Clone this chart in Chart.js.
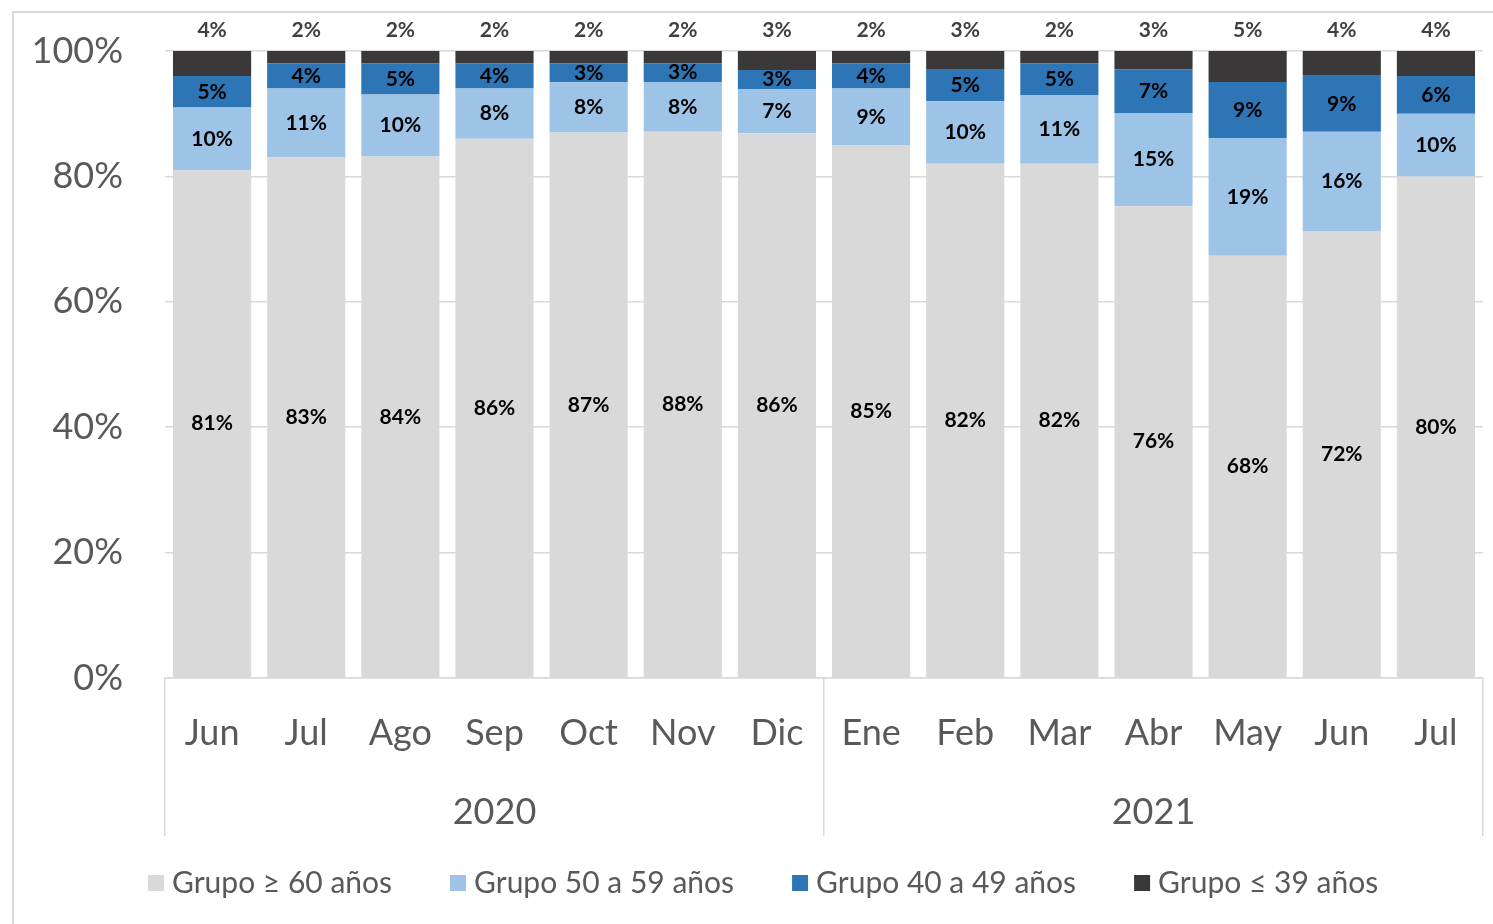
<!DOCTYPE html>
<html lang="es">
<head>
<meta charset="utf-8">
<title>Distribución por grupo de edad</title>
<script src="https://cdn.jsdelivr.net/npm/chart.js@4.4.1/dist/chart.umd.min.js"></script>
<style>
  html, body { margin: 0; padding: 0; background: #ffffff; }
  #wrap { position: relative; width: 1493px; height: 924px; overflow: hidden; }
  #frame { position: absolute; left: 12px; top: 11px; width: 1600px; height: 1000px;
           border-left: 2px solid #d9d9d9; border-top: 2px solid #d9d9d9; box-sizing: border-box; }
  canvas { position: absolute; left: 0; top: 0; }
</style>
</head>
<body>
<div id="wrap">
  <div id="frame"></div>
  <canvas id="chart" width="1493" height="924"></canvas>
</div>
<script>
// Months (two calendar years) and the year groups beneath them
const months = ['Jun', 'Jul', 'Ago', 'Sep', 'Oct', 'Nov', 'Dic',
                'Ene', 'Feb', 'Mar', 'Abr', 'May', 'Jun', 'Jul'];
const years = ['2020', '2021'];

// Share of each age group per month (%)
const grupo60 = [81, 83, 84, 86, 87, 88, 86, 85, 82, 82, 76, 68, 72, 80];
const grupo50 = [10, 11, 10, 8, 8, 8, 7, 9, 10, 11, 15, 19, 16, 10];
const grupo40 = [5, 4, 5, 4, 3, 3, 3, 4, 5, 5, 7, 9, 9, 6];
const grupo39 = [4, 2, 2, 2, 2, 2, 3, 2, 3, 2, 3, 5, 4, 4];

const seriesNames = ['Grupo \u2265 60 a\u00f1os', 'Grupo 50 a 59 a\u00f1os',
                     'Grupo 40 a 49 a\u00f1os', 'Grupo \u2264 39 a\u00f1os'];

// Y-axis tick values
const yTicks = [0, 20, 40, 60, 80, 100];

const FONT = 'Lato, "Open Sans", sans-serif';
const AXIS_TEXT = '#595959';
const LINE = '#d9d9d9';
const colors = ['#d9d9d9', '#9dc3e6', '#2e75b6', '#3a3838'];

const series = [grupo60, grupo50, grupo40, grupo39];
// 100% stacking: each column is scaled so its segments fill the full height
const totals = months.map((_, i) => series.reduce((s, arr) => s + arr[i], 0));
const stacked = series.map(arr => arr.map((v, i) => v / totals[i] * 100));

// Percentage labels on each segment; the top group is labelled above the bar
const segmentLabels = {
  id: 'segmentLabels',
  afterDatasetsDraw(chart) {
    const ctx = chart.ctx;
    const area = chart.chartArea;
    ctx.save();
    ctx.textAlign = 'center';
    ctx.textBaseline = 'middle';
    chart.data.datasets.forEach((ds, di) => {
      const meta = chart.getDatasetMeta(di);
      meta.data.forEach((bar, i) => {
        const txt = series[di][i] + '%';
        ctx.font = 'bold 21px ' + FONT;
        if (di === chart.data.datasets.length - 1) {
          const y = area.top - 21;
          const w = ctx.measureText(txt).width + 10;
          ctx.fillStyle = '#ffffff';
          ctx.fillRect(bar.x - w / 2, y - 12, w, 24);
          ctx.fillStyle = '#404040';
          ctx.fillText(txt, bar.x, y);
        } else {
          ctx.fillStyle = '#000000';
          ctx.fillText(txt, bar.x, (bar.y + bar.base) / 2);
        }
      });
    });
    ctx.restore();
  }
};

// Legend row under the axis
const bottomLegend = {
  id: 'bottomLegend',
  afterDraw(chart) {
    const ctx = chart.ctx;
    ctx.save();
    ctx.font = '30px ' + FONT;
    ctx.textBaseline = 'middle';
    ctx.textAlign = 'left';
    let x = 148;
    const y = 883;
    chart.data.datasets.forEach(ds => {
      ctx.fillStyle = ds.backgroundColor;
      ctx.fillRect(x, y - 8, 16, 16);
      x += 24;
      ctx.fillStyle = AXIS_TEXT;
      ctx.fillText(ds.label, x, y);
      x += ctx.measureText(ds.label).width + 58;
    });
    ctx.restore();
  }
};

const separatorColor = c => (c.type !== 'tick' || c.index % 7 === 0) ? LINE : 'rgba(0,0,0,0)';

new Chart(document.getElementById('chart'), {
  type: 'bar',
  data: {
    labels: months,
    datasets: stacked.map((d, k) => ({
      label: seriesNames[k],
      data: d,
      backgroundColor: colors[k],
      borderWidth: 0,
      barPercentage: 0.83,
      categoryPercentage: 1.0
    }))
  },
  options: {
    responsive: false,
    devicePixelRatio: 1,
    animation: false,
    layout: { padding: { left: 0, right: 10, top: 51, bottom: 86 } },
    plugins: {
      legend: { display: false },
      tooltip: { enabled: false }
    },
    scales: {
      x: {
        type: 'category',
        stacked: true,
        position: 'bottom',
        weight: 0,
        offset: true,
        border: { display: true, color: LINE, width: 1.5 },
        grid: {
          offset: true,
          drawOnChartArea: false,
          drawTicks: true,
          tickLength: 80,
          color: separatorColor,
          lineWidth: 1.5
        },
        ticks: {
          color: AXIS_TEXT,
          font: { family: FONT, size: 36 },
          padding: -46,
          maxRotation: 0,
          autoSkip: false
        },
        afterFit(s) { s.height = 80; s.paddingLeft = 0; s.paddingRight = 0; }
      },
      x2: {
        type: 'category',
        labels: years,
        position: 'bottom',
        weight: 1,
        offset: true,
        border: { display: false },
        grid: {
          offset: true,
          drawOnChartArea: false,
          drawTicks: true,
          tickLength: 78,
          color: LINE,
          lineWidth: 1.5
        },
        ticks: {
          color: AXIS_TEXT,
          font: { family: FONT, size: 36 },
          padding: -45,
          maxRotation: 0,
          autoSkip: false
        },
        afterFit(s) { s.height = 80; s.paddingLeft = 0; s.paddingRight = 0; }
      },
      y: {
        stacked: true,
        min: 0,
        max: 100,
        afterBuildTicks(s) { s.ticks = yTicks.map(v => ({ value: v })); },
        border: { display: false },
        grid: { color: LINE, lineWidth: 1.5, drawTicks: false },
        ticks: {
          color: AXIS_TEXT,
          font: { family: FONT, size: 36 },
          padding: 42,
          callback: v => v + '%'
        },
        afterFit(s) { s.width = 165; s.paddingTop = 0; s.paddingBottom = 0; }
      }
    }
  },
  plugins: [segmentLabels, bottomLegend]
});
</script>
</body>
</html>
